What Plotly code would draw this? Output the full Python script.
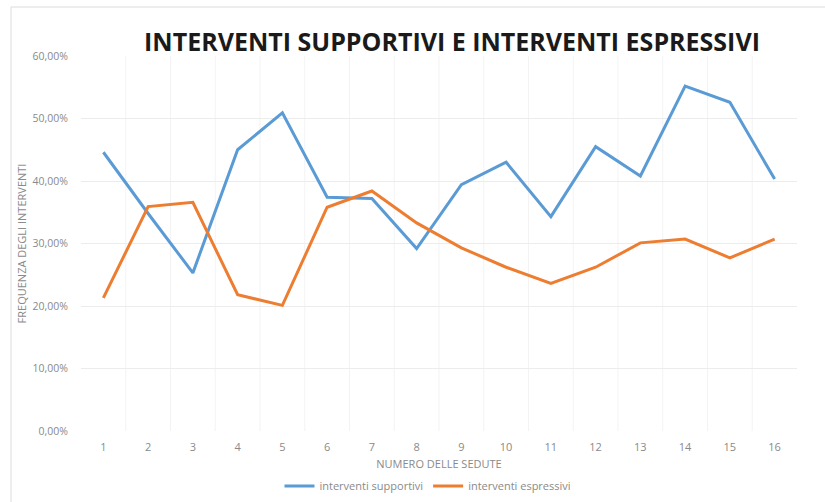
import plotly.graph_objects as go

sedute = list(range(1, 17))
supportivi = [0.446, 0.348, 0.253, 0.450, 0.509, 0.374, 0.372, 0.292,
              0.394, 0.430, 0.343, 0.455, 0.408, 0.552, 0.526, 0.403]
espressivi = [0.213, 0.359, 0.366, 0.218, 0.201, 0.358, 0.384, 0.333,
              0.293, 0.262, 0.236, 0.262, 0.301, 0.307, 0.277, 0.307]
y_ticks = [0, 0.1, 0.2, 0.3, 0.4, 0.5, 0.6]

W, H = 825, 502
ML, MR, MT, MB = 81, 28, 56, 71
pw = W - ML - MR
ph = H - MT - MB
GREY = "#8a8a8a"

fig = go.Figure()
fig.add_trace(go.Scatter(x=sedute, y=supportivi, mode="lines",
                         name="interventi supportivi",
                         line=dict(color="#5B9BD5", width=3)))
fig.add_trace(go.Scatter(x=sedute, y=espressivi, mode="lines",
                         name="interventi espressivi",
                         line=dict(color="#ED7D31", width=3)))

# faint separators between categories
for k in range(1, 16):
    fig.add_shape(type="line", xref="x", yref="y",
                  x0=k + 0.5, x1=k + 0.5, y0=0, y1=0.6,
                  line=dict(color="#f3f3f3", width=1), layer="below")

# outer chart frame: top and left edges
fig.add_shape(type="line", xref="paper", yref="paper",
              x0=(11 - ML) / pw, x1=(W - ML) / pw,
              y0=1 + (MT - 7) / ph, y1=1 + (MT - 7) / ph,
              line=dict(color="#dcdcdc", width=1), layer="below")
fig.add_shape(type="line", xref="paper", yref="paper",
              x0=(11 - ML) / pw, x1=(11 - ML) / pw,
              y0=-(H - (H - MB)) / ph, y1=1 + (MT - 7) / ph,
              line=dict(color="#dcdcdc", width=1), layer="below")

fig.update_layout(
    width=W, height=H,
    margin=dict(l=ML, r=MR, t=MT, b=MB, autoexpand=False),
    paper_bgcolor="white", plot_bgcolor="white",
    separators=",.",
    font=dict(family="Open Sans, Liberation Sans, sans-serif", color=GREY, size=11),
    title=dict(text="<b>INTERVENTI SUPPORTIVI E INTERVENTI ESPRESSIVI</b>",
               x=452 / W, xanchor="center", y=1 - 42 / H, yanchor="middle",
               font=dict(family="Open Sans, sans-serif", size=25, color="#1a1a1a")),
    xaxis=dict(range=[0.5, 16.5], tickvals=sedute, ticktext=[str(s) for s in sedute],
               showgrid=False, zeroline=False, showline=False, ticks="",
               ticklabelstandoff=8, automargin=False,
               title=dict(text="NUMERO DELLE SEDUTE", standoff=7,
                          font=dict(size=11, color=GREY)),
               tickfont=dict(size=11, color=GREY)),
    yaxis=dict(range=[0, 0.6], tickvals=y_ticks, tickformat=".2%",
               showgrid=True, gridcolor="#ececec", gridwidth=1,
               zeroline=False, showline=False, ticks="",
               ticklabelstandoff=12, automargin=False,
               title=dict(text="FREQUENZA DEGLI INTERVENTI", standoff=3,
                          font=dict(size=11, color=GREY)),
               tickfont=dict(size=10.5, color=GREY)),
    legend=dict(orientation="h", x=(428 - ML) / pw, xanchor="center",
                y=-(486 - (H - MB)) / ph, yanchor="middle",
                font=dict(size=11, color=GREY),
                itemwidth=30, tracegroupgap=0),
    showlegend=True,
)

fig.write_html("out.html")
